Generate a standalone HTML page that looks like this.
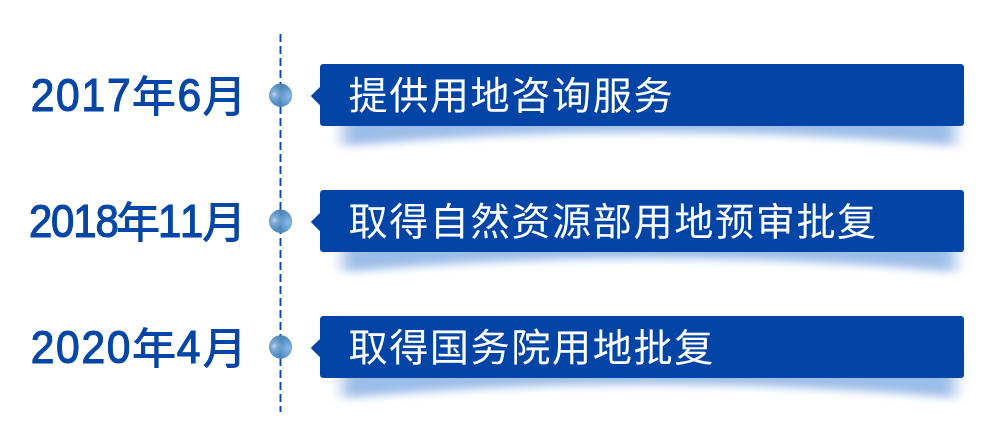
<!DOCTYPE html>
<html lang="zh-CN">
<head>
<meta charset="utf-8">
<title>用地服务时间轴</title>
<style>
  html, body { margin: 0; padding: 0; background: #ffffff; }
  body { width: 992px; height: 443px; position: relative; overflow: hidden;
         font-family: "Liberation Sans", "Noto Sans CJK SC", sans-serif; }
  svg.art { position: absolute; left: 0; top: 0; width: 992px; height: 443px; }
  .date { position: absolute; left: 0; width: 262px; height: 60px; line-height: 60px; white-space: nowrap;
          font-family: "Liberation Sans", "Noto Sans CJK SC", sans-serif; color: #0446a6; font-size: 46.5px; will-change: transform; }
  .date span { display: inline-block; transform-origin: 0 0; vertical-align: baseline; line-height: 60px; }
  .date .d { font-size: 46.5px; font-weight: 400; -webkit-text-stroke: 1.2px #0446a6; font-kerning: none; }
  .date .c { font-size: 43.2px; font-weight: 500; width: 43.2px; margin-right: -43.2px; }
  .box { position: absolute; left: 320px; width: 644px; height: 61.5px; background: #0045a5; border-radius: 3.5px;
         font-family: "Liberation Sans", "Noto Sans CJK SC", sans-serif; color: #ffffff;
         font-size: 39.0px; line-height: 61.5px; white-space: nowrap; }
  .box span { display: inline-block; transform-origin: 0 0; letter-spacing: 1.52px;
         transform: translate(28.45px, 1.5px) rotate(0.03deg) scaleX(1.005); }
</style>
</head>
<body>
<svg class="art" viewBox="0 0 992 443">
  <defs>
    <filter id="bl" x="-10%" y="-100%" width="120%" height="300%"><feGaussianBlur stdDeviation="7.5 4"/></filter>
    <path id="shp" d="M343 -18 H955 V31 Q649 3.5 343 31 Z"/>
    <filter id="soft" x="-20%" y="-20%" width="140%" height="140%"><feGaussianBlur stdDeviation="0.35"/></filter>
    <radialGradient id="hl" cx="0.22" cy="0.46" r="0.40">
      <stop offset="0" stop-color="#c6d8f0" stop-opacity="0.95"/>
      <stop offset="0.35" stop-color="#a9c6e8" stop-opacity="0.55"/>
      <stop offset="1" stop-color="#96b9e1" stop-opacity="0"/>
    </radialGradient>
    <radialGradient id="rt" cx="0.86" cy="0.56" r="0.46">
      <stop offset="0" stop-color="#8cbbec" stop-opacity="0.95"/>
      <stop offset="0.45" stop-color="#86b6e8" stop-opacity="0.6"/>
      <stop offset="1" stop-color="#82b4e6" stop-opacity="0"/>
    </radialGradient>
    <linearGradient id="band" x1="0" y1="0" x2="1" y2="0">
      <stop offset="0" stop-color="#3c6e9e" stop-opacity="0.4"/>
      <stop offset="0.14" stop-color="#3c6e9e" stop-opacity="0"/>
      <stop offset="0.36" stop-color="#3c6e9e" stop-opacity="0"/>
      <stop offset="0.5" stop-color="#3c6e9e" stop-opacity="0.22"/>
      <stop offset="0.64" stop-color="#3c6e9e" stop-opacity="0"/>
      <stop offset="1" stop-color="#3c6e9e" stop-opacity="0"/>
    </linearGradient>
    <g id="ball" filter="url(#soft)">
      <ellipse cx="280.6" cy="0" rx="11.4" ry="11.7" fill="#548ec0"/>
      <ellipse cx="280.6" cy="0" rx="11.4" ry="11.7" fill="url(#band)"/>
      <ellipse cx="280.6" cy="0" rx="11.4" ry="11.7" fill="url(#rt)"/>
      <ellipse cx="280.6" cy="0" rx="11.4" ry="11.7" fill="url(#hl)"/>
    </g>
  </defs>
  <!-- curled drop shadows under the three bars -->
  <g fill="#9cbde9" filter="url(#bl)">
    <use href="#shp" y="115"/>
    <use href="#shp" y="241"/>
    <use href="#shp" y="367"/>
  </g>
  <!-- dashed timeline axis -->
  <line x1="280.5" y1="34" x2="280.5" y2="412" stroke="#0446a6" stroke-width="1.9" stroke-dasharray="8 4"/>
  <!-- timeline nodes -->
  <use href="#ball" y="95.3"/>
  <use href="#ball" y="221.2"/>
  <use href="#ball" y="347"/>
  <!-- bar pointers -->
  <g fill="#0045a5">
    <polygon points="310.8,96.1 321,85.9 321,106.3"/>
    <polygon points="310.8,222.1 321,211.9 321,232.3"/>
    <polygon points="310.8,348.1 321,337.9 321,358.3"/>
  </g>
</svg>

<div class="date" style="top:66px"><span class="d" style="transform:translate(30.68px,-1.0px) scaleX(0.915);letter-spacing:1.93px;width:111.1px;margin-right:-111.1px">2017</span><span class="c" style="transform:translate(131.56px,0.0px) scaleX(1.035)">年</span><span class="d" style="transform:translate(177.40px,-1.0px) scaleX(0.915);width:25.9px;margin-right:-25.9px">6</span><span class="c" style="transform:translate(202.01px,0.0px) scaleX(1.035)">月</span></div>
<div class="date" style="top:192px"><span class="d" style="transform:translate(28.95px,-1.0px) scaleX(0.9);letter-spacing:-1.24px;width:98.5px;margin-right:-98.5px">2018</span><span class="c" style="transform:translate(115.78px,0.0px) scaleX(1.035)">年</span><span class="d" style="transform:translate(158.09px,-1.0px) scaleX(0.9);letter-spacing:-1.64px;width:48.4px;margin-right:-48.4px">11</span><span class="c" style="transform:translate(201.66px,0.0px) scaleX(1.035)">月</span></div>
<div class="date" style="top:318px"><span class="d" style="transform:translate(30.71px,-1.0px) scaleX(0.915);letter-spacing:1.88px;width:111.0px;margin-right:-111.0px">2020</span><span class="c" style="transform:translate(131.83px,0.0px) scaleX(1.035)">年</span><span class="d" style="transform:translate(176.68px,-1.0px) scaleX(0.915);width:25.9px;margin-right:-25.9px">4</span><span class="c" style="transform:translate(202.26px,0.0px) scaleX(1.035)">月</span></div>

<div class="box" style="top:64px"><span>提供用地咨询服务</span></div>
<div class="box" style="top:190px"><span>取得自然资源部用地预审批复</span></div>
<div class="box" style="top:316px"><span>取得国务院用地批复</span></div>
</body>
</html>
